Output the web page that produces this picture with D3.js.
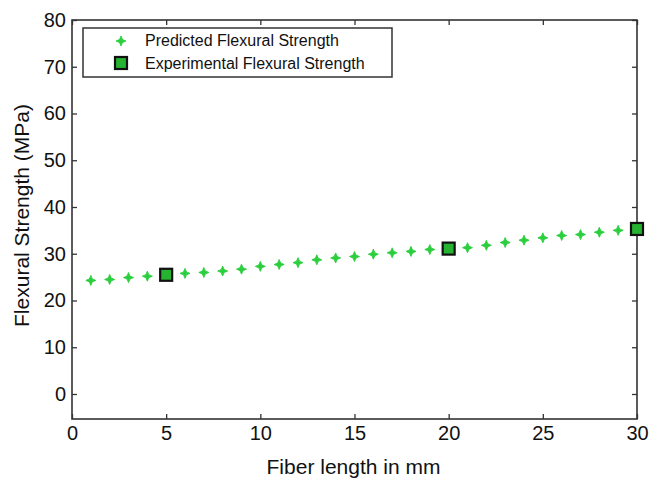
<!DOCTYPE html>
<html>
<head>
<meta charset="utf-8">
<script src="https://cdn.jsdelivr.net/npm/d3@7"></script>
<style>
  body { margin: 0; background: #fff; }
  svg { display: block; font-family: "Liberation Sans", Arial, sans-serif; }
</style>
</head>
<body>
<svg id="chart" width="668" height="480"></svg>
<script>
// Predicted flexural strength, every mm of fiber length
var predX = [1, 2, 3, 4, 5, 6, 7, 8, 9, 10, 11, 12, 13, 14, 15, 16, 17, 18, 19, 20,
             21, 22, 23, 24, 25, 26, 27, 28, 29, 30];
var predY = [24.3, 24.5, 24.9, 25.2, 25.5, 25.8, 26.0, 26.3, 26.7, 27.3, 27.7, 28.1, 28.7, 29.1, 29.4,
             29.9, 30.2, 30.5, 30.9, 31.1, 31.3, 31.8, 32.4, 32.9, 33.4, 33.9, 34.1, 34.6, 35.0, 35.3];
// Experimental points
var expX = [5, 20, 30];
var expY = [25.5, 31.1, 35.3];
var xTicks = [0, 5, 10, 15, 20, 25, 30];
var yTicks = [0, 10, 20, 30, 40, 50, 60, 70, 80];
var legendLabels = ["Predicted Flexural Strength", "Experimental Flexural Strength"];

const svg = d3.select("#chart");
// plot box edges (px)
const pL = 72, pR = 637, pT = 20, pB = 419;
const axisColor = "#333";

const x = d3.scaleLinear().domain([0, 30]).range([pL, pR]);
const y = d3.scaleLinear().domain([-5.35, 80]).range([pB, pT]);

// frame
svg.append("rect")
    .attr("x", pL).attr("y", pT)
    .attr("width", pR - pL).attr("height", pB - pT)
    .attr("fill", "none")
    .attr("stroke", axisColor)
    .attr("stroke-width", 1.6);

// axes: ticks point inward, labels only on bottom and left
function styleAxis(g, showLabels) {
    g.select(".domain").remove();
    g.selectAll(".tick line").attr("stroke", axisColor).attr("stroke-width", 1.3);
    g.selectAll(".tick text")
        .attr("fill", "#111")
        .attr("font-size", 20)
        .style("display", showLabels ? null : "none");
}
svg.append("g")
    .attr("transform", `translate(0,${pB})`)
    .call(d3.axisBottom(x).tickValues(xTicks).tickSizeInner(-5).tickPadding(7).tickFormat(d3.format("d")))
    .call(g => styleAxis(g, true));
svg.append("g")
    .attr("transform", `translate(0,${pT})`)
    .call(d3.axisTop(x).tickValues(xTicks).tickSizeInner(-5))
    .call(g => styleAxis(g, false));
svg.append("g")
    .attr("transform", `translate(${pL},0)`)
    .call(d3.axisLeft(y).tickValues(yTicks).tickSizeInner(-5).tickPadding(6).tickFormat(d3.format("d")))
    .call(g => styleAxis(g, true));
svg.append("g")
    .attr("transform", `translate(${pR},0)`)
    .call(d3.axisRight(y).tickValues(yTicks).tickSizeInner(-5))
    .call(g => styleAxis(g, false));

// axis titles
svg.append("text")
    .attr("x", (pL + pR) / 2 - 1)
    .attr("y", 474)
    .attr("text-anchor", "middle")
    .attr("font-size", 21)
    .attr("fill", "#111")
    .text("Fiber length in mm");
svg.append("text")
    .attr("transform", `translate(29,${(pT + pB) / 2 - 4}) rotate(-90)`)
    .attr("text-anchor", "middle")
    .attr("font-size", 21)
    .attr("fill", "#111")
    .text("Flexural Strength (MPa)");

// 4-point star marker
const starColor = "#2bcf3e";
function starPath(r) {
    const ri = r * 0.42;
    const pts = [];
    for (let i = 0; i < 8; i++) {
        const a = i * Math.PI / 4;
        const rr = i % 2 ? ri : r;
        pts.push([rr * Math.sin(a), -rr * Math.cos(a)]);
    }
    return "M" + pts.map(p => p.join(",")).join("L") + "Z";
}

const pred = predX.map((d, i) => ({x: d, y: predY[i]}));
const exp = expX.map((d, i) => ({x: d, y: expY[i]}));

svg.append("g").selectAll("path")
    .data(pred)
    .join("path")
    .attr("d", starPath(5))
    .attr("transform", d => `translate(${x(d.x)},${y(d.y)})`)
    .attr("fill", starColor)
    .attr("stroke", starColor)
    .attr("stroke-width", 0.9)
    .attr("stroke-linejoin", "round");

const sq = 12;
svg.append("g").selectAll("rect")
    .data(exp)
    .join("rect")
    .attr("x", d => x(d.x) - sq / 2)
    .attr("y", d => y(d.y) - sq / 2)
    .attr("width", sq).attr("height", sq)
    .attr("fill", "#25b331")
    .attr("stroke", "#111")
    .attr("stroke-width", 2.2);

// legend
const lg = svg.append("g");
lg.append("rect")
    .attr("x", 83).attr("y", 28)
    .attr("width", 309).attr("height", 49)
    .attr("fill", "#fff")
    .attr("stroke", axisColor)
    .attr("stroke-width", 1.5);
lg.append("path")
    .attr("d", starPath(5))
    .attr("transform", "translate(121,41)")
    .attr("fill", starColor)
    .attr("stroke", starColor)
    .attr("stroke-width", 0.9);
lg.append("rect")
    .attr("x", 121 - sq / 2).attr("y", 63 - sq / 2)
    .attr("width", sq).attr("height", sq)
    .attr("fill", "#25b331")
    .attr("stroke", "#111")
    .attr("stroke-width", 2.2);
lg.selectAll("text.lbl")
    .data(legendLabels)
    .join("text")
    .attr("class", "lbl")
    .attr("x", 145)
    .attr("y", (d, i) => 46 + i * 23)
    .attr("font-size", 16)
    .attr("fill", "#111")
    .text(d => d);
</script>
</body>
</html>
